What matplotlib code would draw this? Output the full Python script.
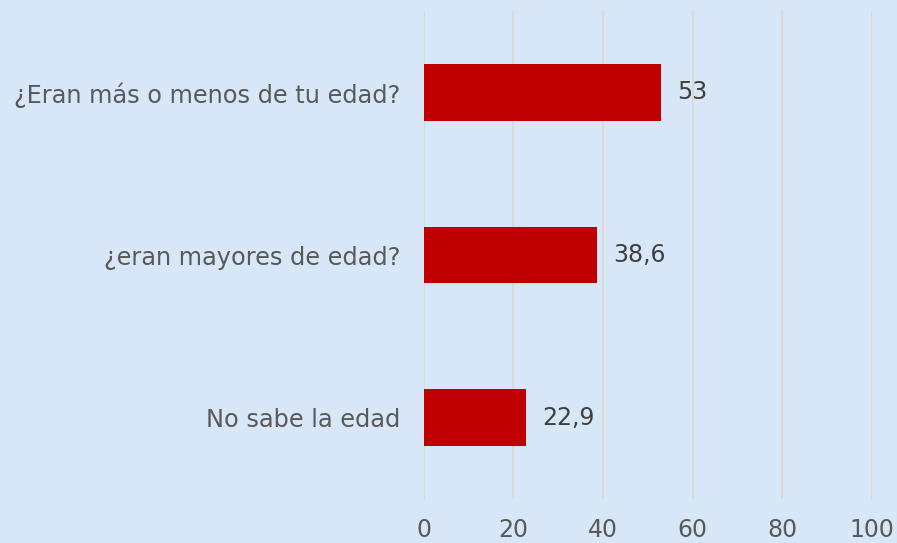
import matplotlib.pyplot as plt

plt.rcParams["font.family"] = "DejaVu Sans"

categories = ["¿Eran más o menos de tu edad?", "¿eran mayores de edad?", "No sabe la edad"]
values = [53, 38.6, 22.9]
value_labels = ["53", "38,6", "22,9"]
xticks = [0, 20, 40, 60, 80, 100]

bg = "#D7E7F7"
fig = plt.figure(figsize=(8.97, 5.43), dpi=100, facecolor=bg)
ax = fig.add_axes([0.4724, 0.081, 0.4997, 0.8987], facecolor=bg)

ypos = list(range(len(categories)))
ax.barh(ypos, values, height=0.35, color="#C00000", zorder=3)
ax.set_ylim(len(categories) - 0.5, -0.5)
ax.set_xlim(0, 100)

for y, v, lab in zip(ypos, values, value_labels):
    ax.annotate(lab, (v, y), xytext=(16, 0), textcoords="offset pixels",
                va="center", ha="left", fontsize=17, color="#404040")

ax.set_yticks(ypos)
ax.set_yticklabels(categories, fontsize=17.3, color="#595959")
ax.set_xticks(xticks)
ax.set_xticklabels([str(t) for t in xticks], fontsize=17, color="#595959")
ax.tick_params(axis="both", length=0)
ax.tick_params(axis="x", pad=14)
ax.tick_params(axis="y", pad=17)

ax.grid(axis="x", color="#D9D9D9", linewidth=1.5, zorder=0)
for s in ax.spines.values():
    s.set_visible(False)

fig.savefig("out.png", dpi=100, facecolor=bg)
